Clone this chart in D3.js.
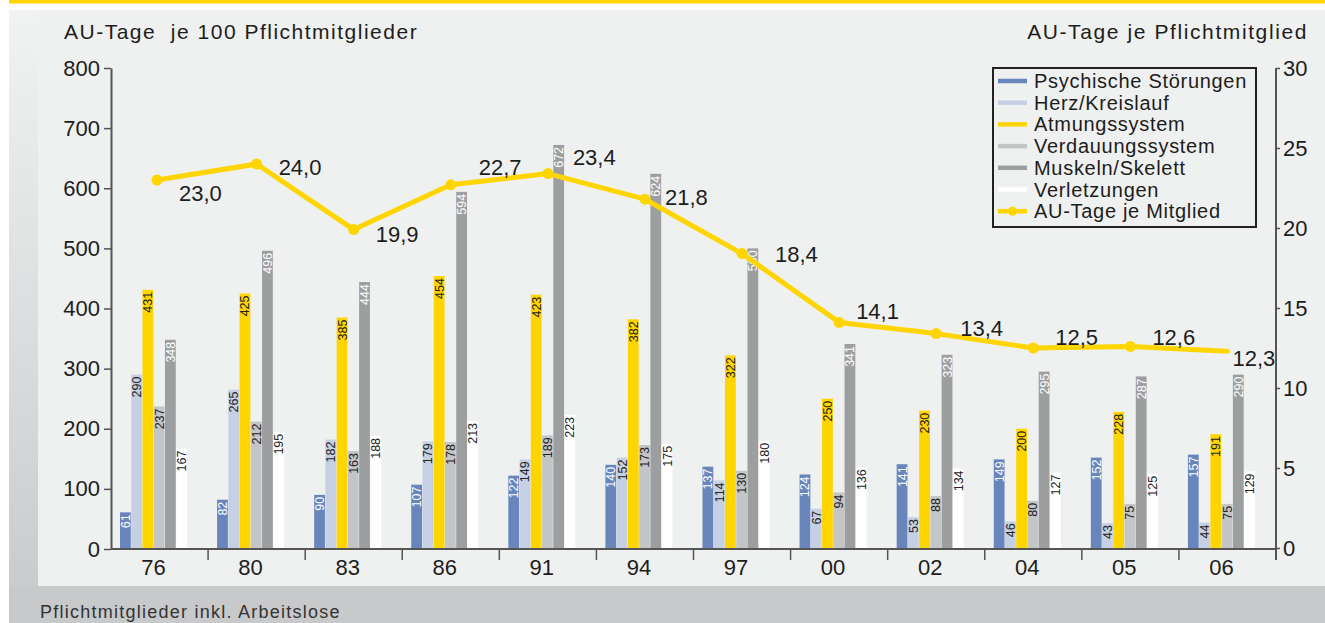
<!DOCTYPE html>
<html>
<head>
<meta charset="utf-8">
<script src="https://cdn.jsdelivr.net/npm/d3@7/dist/d3.min.js"></script>
<style>
  html, body { margin: 0; padding: 0; background: #ffffff; }
  svg { display: block; font-family: "Liberation Sans", Arial, sans-serif; }
</style>
</head>
<body>
<svg id="chart" width="1325" height="623"></svg>
<script>
// Survey years (x categories)
const years = ["76", "80", "83", "86", "91", "94", "97", "00", "02", "04", "05", "06"];

// Diagnosis groups shown as bars (AU-Tage je 100 Pflichtmitglieder)
const seriesNames = ["Psychische Störungen", "Herz/Kreislauf", "Atmungssystem",
                     "Verdauungssystem", "Muskeln/Skelett", "Verletzungen"];
const psychisch   = [61, 82, 90, 107, 122, 140, 137, 124, 141, 149, 152, 157];
const herz        = [290, 265, 182, 179, 149, 152, 114, 67, 53, 46, 43, 44];
const atmung      = [431, 425, 385, 454, 423, 382, 322, 250, 230, 200, 228, 191];
const verdauung   = [237, 212, 163, 178, 189, 173, 130, 94, 88, 80, 75, 75];
const muskeln     = [348, 496, 444, 594, 672, 624, 500, 341, 323, 295, 287, 290];
const verletzung  = [167, 195, 188, 213, 223, 175, 180, 136, 134, 127, 125, 129];

// AU-Tage je Mitglied (right axis)
const lineName  = "AU-Tage je Mitglied";
const auTage    = [23.0, 24.0, 19.9, 22.7, 23.4, 21.8, 18.4, 14.1, 13.4, 12.5, 12.6, 12.3];

// Tick values
const leftTicks  = [0, 100, 200, 300, 400, 500, 600, 700, 800];
const rightTicks = [0, 5, 10, 15, 20, 25, 30];

const seriesValues = [psychisch, herz, atmung, verdauung, muskeln, verletzung];

// ---- styling ----
const barColors  = ["#6886bb", "#c5d0e4", "#ffd500", "#c4c5c7", "#9d9ea0", "#ffffff"];
const labelColors = ["#ffffff", "#222222", "#222222", "#222222", "#ffffff", "#222222"];
const lineColor = "#ffd500";
const axisColor = "#555555";
const textColor = "#1d1d1b";
// label offsets (dx, dy-baseline) for the per-point values of the line
const lineLabelOffsets = [[22, 21], [22, 11], [22, 12], [28, -10], [25, -9], [20, 6],
                          [33, 8], [17, -3], [24, 2], [22, -3], [22, -1], [5, 15]];

const svg = d3.select("#chart");

// ---- background frame ----
const defs = svg.append("defs");
const grad = defs.append("linearGradient").attr("id", "sideGrad")
  .attr("x1", 0).attr("y1", 0).attr("x2", 0).attr("y2", 1);
grad.append("stop").attr("offset", "0%").attr("stop-color", "#f1f2f2");
grad.append("stop").attr("offset", "100%").attr("stop-color", "#c8c9cb");

svg.append("rect").attr("x", 9).attr("y", 0).attr("width", 1316).attr("height", 3.5).attr("fill", "#ffd500");
svg.append("rect").attr("x", 9).attr("y", 10).attr("width", 29).attr("height", 613).attr("fill", "url(#sideGrad)");
svg.append("rect").attr("x", 9).attr("y", 586).attr("width", 1316).attr("height", 37).attr("fill", "#c8c9cb");
svg.append("rect").attr("x", 38).attr("y", 10).attr("width", 1287).attr("height", 576).attr("fill", "#eff0f0");

svg.append("text").attr("x", 40).attr("y", 618)
  .attr("font-size", 18).attr("letter-spacing", 1.25).attr("fill", "#333")
  .text("Pflichtmitglieder inkl. Arbeitslose");

// ---- scales ----
const plotLeft = 111, plotRight = 1276, plotTop = 68, plotBottom = 549;

const x0 = d3.scaleBand().domain(years).range([plotLeft, plotRight]).padding(0);
const x1 = d3.scaleBand().domain(seriesNames).range([9, 76]).paddingInner(0.04);
const yLeft  = d3.scaleLinear().domain([0, 800]).range([plotBottom, plotTop]);
const yRight = d3.scaleLinear().domain([0, 30]).range([plotBottom - 1, plotTop]);

// ---- axis titles ----
svg.append("text").attr("x", 64).attr("y", 39).attr("font-size", 21).attr("fill", textColor)
  .attr("letter-spacing", 1.5).attr("xml:space", "preserve").text("AU-Tage  je 100 Pflichtmitglieder");
svg.append("text").attr("x", 1308).attr("y", 39).attr("font-size", 21).attr("fill", textColor)
  .attr("letter-spacing", 1.6).attr("text-anchor", "end").text("AU-Tage je Pflichtmitglied");

// ---- left axis ----
const leftAxis = svg.append("g").attr("transform", `translate(${plotLeft},0)`)
  .call(d3.axisLeft(yLeft).tickValues(leftTicks).tickSize(7).tickSizeOuter(0).tickPadding(4));
leftAxis.select(".domain").attr("stroke", axisColor).attr("stroke-width", 2);
leftAxis.selectAll(".tick line").attr("stroke", axisColor).attr("stroke-width", 1.5);
leftAxis.selectAll(".tick text").attr("font-size", 22).attr("fill", textColor)
  .attr("font-family", "Liberation Sans, Arial, sans-serif");

// ---- right axis ----
const rightAxis = svg.append("g").attr("transform", `translate(${plotRight},0)`)
  .call(d3.axisRight(yRight).tickValues(rightTicks).tickSize(4).tickSizeOuter(0).tickPadding(3));
rightAxis.select(".domain").remove();
rightAxis.append("line").attr("x1", 0).attr("x2", 0).attr("y1", plotTop).attr("y2", 560)
  .attr("stroke", axisColor).attr("stroke-width", 2);
rightAxis.selectAll(".tick line").attr("stroke", axisColor).attr("stroke-width", 1.5);
rightAxis.selectAll(".tick text").attr("font-size", 22).attr("fill", textColor)
  .attr("font-family", "Liberation Sans, Arial, sans-serif");

// ---- bars ----
const groups = svg.append("g").selectAll("g.year")
  .data(years).join("g").attr("class", "year")
  .attr("transform", d => `translate(${x0(d)},0)`);

groups.each(function (yr, yi) {
  const g = d3.select(this);
  seriesNames.forEach((name, si) => {
    const v = seriesValues[si][yi];
    const bx = x1(name), bw = x1.bandwidth();
    g.append("rect")
      .attr("x", bx).attr("y", yLeft(v))
      .attr("width", bw).attr("height", yLeft(0) - yLeft(v))
      .attr("fill", barColors[si]);
    g.append("text")
      .attr("transform", `translate(${bx + bw / 2},${yLeft(v) + 2}) rotate(-90)`)
      .attr("text-anchor", "end").attr("dy", "0.36em")
      .attr("font-size", 12.5).attr("fill", labelColors[si])
      .text(v);
  });
});

// ---- x axis baseline, separators and labels ----
svg.append("line").attr("x1", plotLeft).attr("x2", plotRight)
  .attr("y1", plotBottom).attr("y2", plotBottom)
  .attr("stroke", axisColor).attr("stroke-width", 2);
svg.append("g").selectAll("line").data(years.slice(1)).join("line")
  .attr("x1", d => x0(d)).attr("x2", d => x0(d))
  .attr("y1", plotBottom).attr("y2", 560)
  .attr("stroke", axisColor).attr("stroke-width", 1.5);
svg.append("g").selectAll("text").data(years).join("text")
  .attr("x", d => x0(d) + 42.5).attr("y", 575)
  .attr("text-anchor", "middle").attr("font-size", 22).attr("fill", textColor)
  .text(d => d);

// ---- line: AU-Tage je Mitglied ----
const cx = (d, i) => x0(years[i]) + x0.bandwidth() / 2 - (i === 0 ? 2.5 : 0);
const line = d3.line().x((d, i) => cx(d, i)).y(d => yRight(d));
svg.append("path").datum(auTage)
  .attr("d", line).attr("fill", "none")
  .attr("stroke", lineColor).attr("stroke-width", 5)
  .attr("stroke-linejoin", "round").attr("stroke-linecap", "round");
svg.append("g").selectAll("circle").data(auTage.slice(0, -1)).join("circle")
  .attr("cx", (d, i) => cx(d, i)).attr("cy", d => yRight(d)).attr("r", 5.5)
  .attr("fill", lineColor);
svg.append("g").selectAll("text").data(auTage).join("text")
  .attr("x", (d, i) => cx(d, i) + lineLabelOffsets[i][0])
  .attr("y", (d, i) => yRight(d) + lineLabelOffsets[i][1])
  .attr("font-size", 22).attr("fill", textColor)
  .text(d => d3.format(".1f")(d).replace(".", ","));

// ---- legend ----
const legend = svg.append("g").attr("transform", "translate(993,68)");
legend.append("rect").attr("width", 263).attr("height", 159)
  .attr("fill", "#eff0f0").attr("stroke", "#222").attr("stroke-width", 2);
const legendItems = seriesNames.map((n, i) => ({ name: n, color: barColors[i], dot: false }))
  .concat([{ name: lineName, color: lineColor, dot: true }]);
const rows = legend.selectAll("g.row").data(legendItems).join("g").attr("class", "row")
  .attr("transform", (d, i) => `translate(0,${13 + i * 21.7})`);
rows.append("line").attr("x1", 5).attr("x2", 34).attr("y1", 0).attr("y2", 0)
  .attr("stroke", d => d.color).attr("stroke-width", 4.5);
rows.filter(d => d.dot).append("circle").attr("cx", 19.5).attr("cy", 0).attr("r", 4.5)
  .attr("fill", d => d.color);
rows.append("text").attr("x", 41).attr("y", 0).attr("dy", "0.35em")
  .attr("font-size", 20).attr("letter-spacing", 0.7).attr("fill", textColor).text(d => d.name);
</script>
</body>
</html>
